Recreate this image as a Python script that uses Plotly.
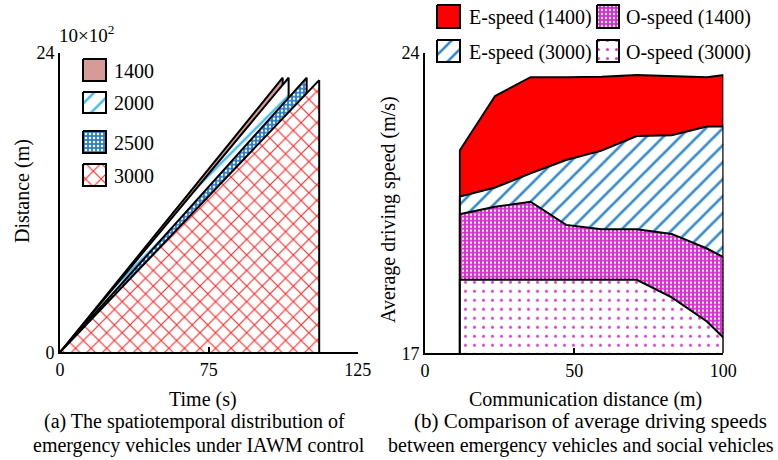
import plotly.graph_objects as go

# ---------------- data ----------------
# (a) spatiotemporal distribution: arrival time and distance covered per scenario
scenarios = ["1400", "2000", "2500", "3000"]
arrival_time = [112.2, 115.2, 124.3, 130.6]          # s (axis units)
distance_hm = [22.0, 22.0, 22.0, 21.8]               # x10^2 m

# (b) average driving speed vs communication distance
comm_dist = [11.7, 23.5, 35.4, 47.3, 59.2, 71.0, 82.7, 94.5, 100]
e_speed_1400 = [21.73, 22.99, 23.43, 23.43, 23.44, 23.48, 23.46, 23.43, 23.48]
e_speed_3000 = [20.65, 20.86, 21.19, 21.50, 21.72, 22.06, 22.08, 22.28, 22.28]
o_speed_1400 = [20.24, 20.41, 20.53, 19.99, 19.89, 19.89, 19.78, 19.44, 19.24]
o_speed_3000 = [18.71, 18.71, 18.71, 18.71, 18.71, 18.71, 18.30, 17.74, 17.37]
speed_names = ["E-speed (1400)", "O-speed (1400)", "E-speed (3000)", "O-speed (3000)"]

# tick marks
a_xticks = [0, 75, 150]
a_xlabels = ["0", "75", "125"]
a_yticks = [0, 24]
b_xticks = [0, 50, 100]
b_yticks = [17, 24]

# ---------------- styling ----------------
W, H = 778, 460
FONT = "Liberation Serif, Times New Roman, serif"


def pattern(shape, bg, fg, size, solidity):
    return dict(shape=shape, bgcolor=bg, fgcolor=fg, fgopacity=1, size=size,
                solidity=solidity, fillmode="replace")


a_styles = [
    dict(fillcolor="#d69a97", fillpattern=None),
    dict(fillcolor="white", fillpattern=pattern("/", "white", "#45b9ef", 12, 0.2)),
    dict(fillcolor="#2c7cc6", fillpattern=pattern(".", "#2c7cc6", "white", 4, 0.3)),
    dict(fillcolor="white", fillpattern=pattern("x", "white", "#ff2a2a", 11, 0.2)),
]
b_styles = {
    "E-speed (1400)": dict(fillcolor="#ff0000", fillpattern=None),
    "O-speed (1400)": dict(fillcolor="#d531cf", fillpattern=pattern(".", "#d531cf", "white", 4, 0.25)),
    "E-speed (3000)": dict(fillcolor="white", fillpattern=pattern("/", "white", "#3187c9", 12, 0.22)),
    "O-speed (3000)": dict(fillcolor="white", fillpattern=pattern(".", "white", "#dc3ad3", 9, 0.09)),
}


def px_x(v):
    return v / W


def px_y(v):
    return 1 - v / H


fig = go.Figure()


def add_poly(xs, ys, style, xa, ya):
    kw = dict(x=xs, y=ys, mode="lines", fill="toself", fillcolor=style["fillcolor"],
              line=dict(color="black", width=2), xaxis=xa, yaxis=ya,
              showlegend=False, hoverinfo="skip")
    if style["fillpattern"] is not None:
        kw["fillpattern"] = style["fillpattern"]
    fig.add_trace(go.Scatter(**kw))


# (a) filled distance-time wedges, shortest arrival drawn first
for t, d, st in zip(arrival_time, distance_hm, a_styles):
    add_poly([0, t, t], [0, d, 0], st, "x", "y")

# (b) overlapping areas filled down to the axis floor
Y_FLOOR = b_yticks[0]
for name, vals in [("E-speed (1400)", e_speed_1400), ("E-speed (3000)", e_speed_3000),
                   ("O-speed (1400)", o_speed_1400), ("O-speed (3000)", o_speed_3000)]:
    xs = [comm_dist[0]] + comm_dist + [comm_dist[-1]]
    ys = [Y_FLOOR] + vals + [Y_FLOOR]
    add_poly(xs, ys, b_styles[name], "x2", "y2")


# legend swatches drawn on a full-page pixel overlay
def swatch(x0, y0, x1, y1, style):
    add_poly([x0, x1, x1, x0, x0], [y0, y0, y1, y1, y0], style, "x3", "y3")


annotations = []


def text(s, x, y, size=20, xanchor="center", yanchor="middle", angle=0):
    annotations.append(dict(text=s, x=px_x(x), y=px_y(y), xref="paper", yref="paper",
                            showarrow=False, xanchor=xanchor, yanchor=yanchor,
                            textangle=angle, font=dict(family=FONT, size=size, color="black")))


a_rows = [(59, 81), (92, 113), (131, 153), (164, 186)]
for name, st, (y0, y1) in zip(scenarios, a_styles, a_rows):
    swatch(83, y0, 106, y1, st)
    text(name, 112, (y0 + y1) / 2 + 1, size=20, xanchor="left")

b_cells = [(437, 460, 5, 28, 467), (597, 619, 5, 28, 624),
           (437, 460, 40, 62, 467), (597, 619, 40, 62, 624)]
for name, (x0, x1, y0, y1, tx) in zip(speed_names, b_cells):
    swatch(x0, y0, x1, y1, b_styles[name])
    text(name, tx, (y0 + y1) / 2 + 1, size=20, xanchor="left")

# axis titles and captions
text("10×10<sup>2</sup>", 57, 48, size=19, xanchor="left", yanchor="bottom")
text("Distance (m)", 23, 191, angle=-90)
text("Time (s)", 203, 399)
text("Average driving speed (m/s)", 388, 210, angle=-90)
text("Communication distance (m)", 585, 399)
text("(a) The spatiotemporal distribution of", 194, 421)
text("emergency vehicles under IAWM control", 199, 445)
text("(b) Comparison of average driving speeds", 590, 421, size=21)
text("between emergency vehicles and social vehicles", 581, 445)

axis_common = dict(showline=True, linecolor="black", linewidth=2, ticks="inside",
                   ticklen=5, tickwidth=2, tickcolor="black", showgrid=False,
                   zeroline=False, tickfont=dict(family=FONT, size=18, color="black"))

fig.update_layout(
    width=W, height=H, margin=dict(l=0, r=0, t=0, b=0, autoexpand=False),
    paper_bgcolor="white", plot_bgcolor="rgba(0,0,0,0)",
    showlegend=False, hovermode=False,
    xaxis=dict(domain=[px_x(60), px_x(357.7)], range=[0, 150], tickvals=a_xticks,
               ticktext=a_xlabels, anchor="y", **axis_common),
    yaxis=dict(domain=[px_y(352.3), px_y(52.7)], range=[0, 24], tickvals=a_yticks,
               anchor="x", **axis_common),
    xaxis2=dict(domain=[px_x(425), px_x(723.3)], range=[0, 100], tickvals=b_xticks,
                anchor="y2", **axis_common),
    yaxis2=dict(domain=[px_y(353.3), px_y(52.7)], range=[17, 24], tickvals=b_yticks,
                anchor="x2", **axis_common),
    xaxis3=dict(domain=[0, 1], range=[0, W], visible=False, anchor="y3", fixedrange=True),
    yaxis3=dict(domain=[0, 1], range=[H, 0], visible=False, anchor="x3", fixedrange=True),
    annotations=annotations,
)

fig.write_html("out.html")
